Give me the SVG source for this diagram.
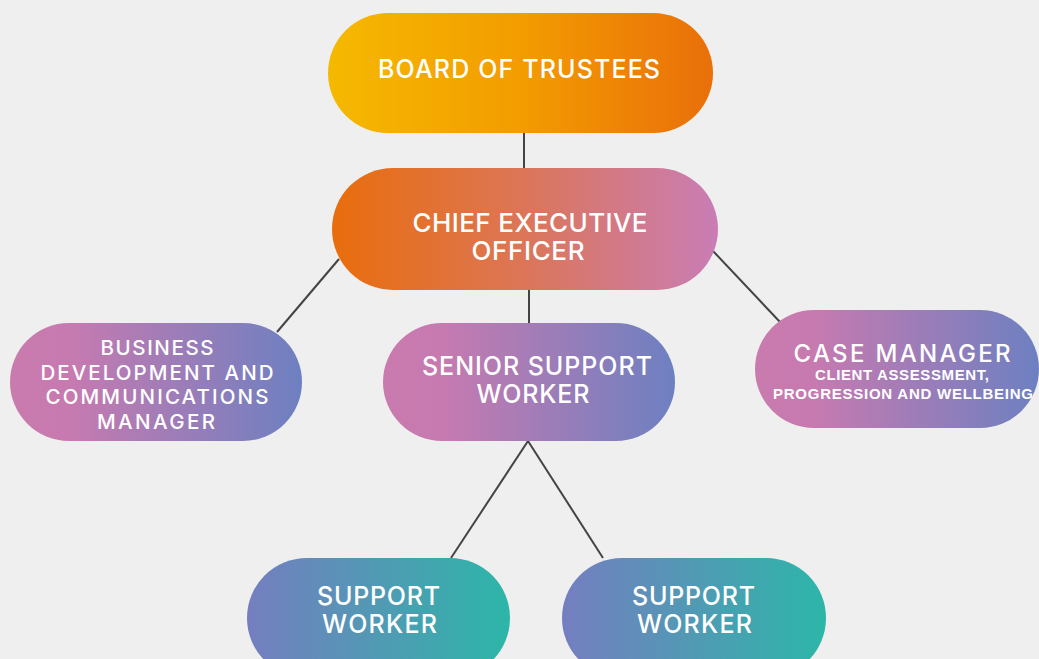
<svg xmlns="http://www.w3.org/2000/svg" width="1039" height="659" viewBox="0 0 1039 659">
<defs>
<linearGradient id="gBoard" x1="0" y1="0" x2="1" y2="0">
<stop offset="0" stop-color="#F5B900"/>
<stop offset="0.5" stop-color="#F39C00"/>
<stop offset="1" stop-color="#E96F0A"/>
</linearGradient>
<linearGradient id="gCeo" x1="0" y1="0" x2="1" y2="0">
<stop offset="0" stop-color="#E96D0C"/>
<stop offset="0.45" stop-color="#DD7550"/>
<stop offset="1" stop-color="#C97DB6"/>
</linearGradient>
<linearGradient id="gPink" x1="0" y1="0" x2="1" y2="0">
<stop offset="0" stop-color="#C97BAE"/>
<stop offset="0.2" stop-color="#C77AB0"/>
<stop offset="1" stop-color="#6D80C1"/>
</linearGradient>
<linearGradient id="gTeal" x1="0" y1="0" x2="1" y2="0">
<stop offset="0" stop-color="#757EC0"/>
<stop offset="1" stop-color="#2CB6A8"/>
</linearGradient>
<style>
.t{fill:#FFFFFF;font-family:Inter,"Liberation Sans",sans-serif;font-weight:500;text-anchor:middle;}
.b{fill:#FFFFFF;font-family:"Liberation Sans",Arial,sans-serif;font-weight:700;text-anchor:middle;}
.c{stroke:#444444;stroke-width:2;fill:none;}
</style>
</defs>
<rect width="1039" height="659" fill="#EFEFEF"/>
<g id="connectors">
<line class="c" x1="524" y1="133" x2="524" y2="168"/>
<line class="c" x1="339" y1="259" x2="277" y2="332"/>
<line class="c" x1="529" y1="290" x2="529" y2="323"/>
<line class="c" x1="713" y1="251" x2="780" y2="322"/>
<line class="c" x1="528" y1="441" x2="451" y2="558"/>
<line class="c" x1="528" y1="441" x2="603" y2="558"/>
</g>
<g id="board">
<rect x="328" y="13" width="385" height="120" rx="60" fill="url(#gBoard)"/>
<text class="t" x="519" y="78" font-size="25" textLength="282" lengthAdjust="spacing">BOARD OF TRUSTEES</text>
</g>
<g id="ceo">
<rect x="332" y="168" width="386" height="122" rx="61" fill="url(#gCeo)"/>
<text class="t" x="530" y="232" font-size="26" textLength="235" lengthAdjust="spacing">CHIEF EXECUTIVE</text>
<text class="t" x="528" y="260" font-size="26" textLength="113" lengthAdjust="spacing">OFFICER</text>
</g>
<g id="business">
<rect x="10" y="323" width="292" height="118" rx="59" fill="url(#gPink)"/>
<text class="t" x="157" y="355" font-size="20.5" textLength="113" lengthAdjust="spacing">BUSINESS</text>
<text class="t" x="157" y="380" font-size="20.5" textLength="233" lengthAdjust="spacing">DEVELOPMENT AND</text>
<text class="t" x="157" y="404" font-size="20.5" textLength="223" lengthAdjust="spacing">COMMUNICATIONS</text>
<text class="t" x="156" y="429" font-size="20.5" textLength="118" lengthAdjust="spacing">MANAGER</text>
</g>
<g id="senior">
<rect x="383" y="323" width="292" height="118" rx="59" fill="url(#gPink)"/>
<text class="t" x="537" y="375" font-size="25" textLength="230" lengthAdjust="spacing">SENIOR SUPPORT</text>
<text class="t" x="533" y="403" font-size="25" textLength="113" lengthAdjust="spacing">WORKER</text>
</g>
<g id="case">
<rect x="755" y="310" width="284" height="118" rx="59" fill="url(#gPink)"/>
<text class="t" x="902" y="362" font-size="24" font-weight="600" textLength="217" lengthAdjust="spacing">CASE MANAGER</text>
<text class="b" x="902" y="380" font-size="15" textLength="174" lengthAdjust="spacing">CLIENT ASSESSMENT,</text>
<text class="b" x="903" y="399" font-size="15" textLength="260" lengthAdjust="spacing">PROGRESSION AND WELLBEING</text>
</g>
<g id="support1">
<rect x="247" y="558" width="263" height="120" rx="60" fill="url(#gTeal)"/>
<text class="t" x="378.5" y="605" font-size="25" textLength="123" lengthAdjust="spacing">SUPPORT</text>
<text class="t" x="379.5" y="633" font-size="25" textLength="115" lengthAdjust="spacing">WORKER</text>
</g>
<g id="support2">
<rect x="562" y="558" width="264" height="120" rx="60" fill="url(#gTeal)"/>
<text class="t" x="693.5" y="605" font-size="25" textLength="123" lengthAdjust="spacing">SUPPORT</text>
<text class="t" x="694.5" y="633" font-size="25" textLength="115" lengthAdjust="spacing">WORKER</text>
</g>
</svg>
